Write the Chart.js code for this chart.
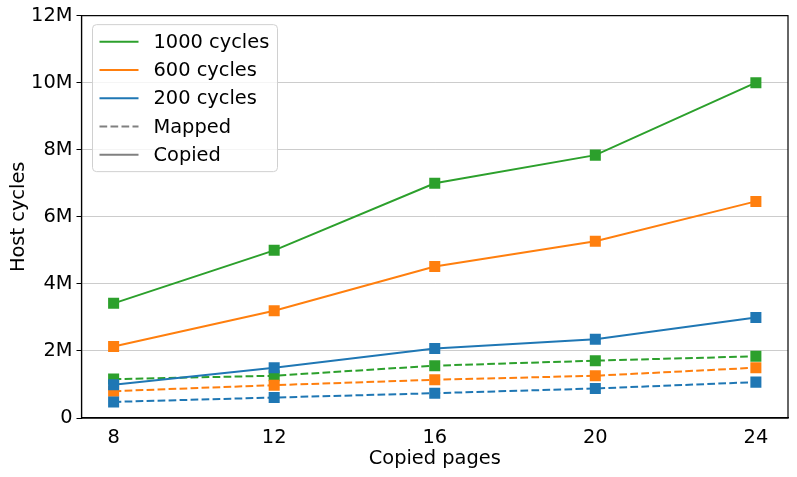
<!DOCTYPE html>
<html>
<head>
<meta charset="utf-8">
<script src="https://cdn.jsdelivr.net/npm/chart.js@4/dist/chart.umd.min.js"></script>
<style>
  html, body { margin: 0; padding: 0; background: #fff; }
  #wrap { width: 797px; height: 477px; }
</style>
</head>
<body>
<div id="wrap"><canvas id="chart" width="797" height="477"></canvas></div>
<script>
// data
var pages = [8, 12, 16, 20, 24];
var seriesNames = ['1000 cycles', '600 cycles', '200 cycles'];
var seriesColors = ['#2ca02c', '#ff7f0e', '#1f77b4'];
var copied1000 = [3.42e6, 5.0e6, 7.0e6, 7.84e6, 10.0e6];
var copied600 = [2.13e6, 3.2e6, 4.52e6, 5.27e6, 6.46e6];
var copied200 = [0.99e6, 1.5e6, 2.07e6, 2.35e6, 3.0e6];
var mapped1000 = [1.16e6, 1.26e6, 1.56e6, 1.71e6, 1.84e6];
var mapped600 = [0.8e6, 0.98e6, 1.14e6, 1.26e6, 1.5e6];
var mapped200 = [0.48e6, 0.61e6, 0.74e6, 0.88e6, 1.07e6];
var yTicks = [0, 2e6, 4e6, 6e6, 8e6, 10e6, 12e6];
var styleNames = ['Mapped', 'Copied'];

var FONT = 'DejaVu Sans';
var FS = 19.4;
var copiedSets = [copied1000, copied600, copied200];
var mappedSets = [mapped1000, mapped600, mapped200];

function pts(vals) {
    return vals.map(function(v, i) { return {x: pages[i], y: v}; });
}

var datasets = [];
for (var i = 2; i >= 0; i--) {
    [[mappedSets[i], [7.7, 3.3]], [copiedSets[i], []]].forEach(function(s) {
        datasets.push({
            data: pts(s[0]),
            borderColor: seriesColors[i],
            backgroundColor: seriesColors[i],
            borderWidth: 2,
            borderDash: s[1],
            pointStyle: 'rect',
            pointRadius: 7.8,
            pointBorderWidth: 0,
            tension: 0
        });
    });
}

// top/right spines like matplotlib
var frame = {
    id: 'frame',
    afterDatasetsDraw: function(chart) {
        var a = chart.chartArea, ctx = chart.ctx;
        ctx.save();
        ctx.strokeStyle = '#000';
        ctx.lineWidth = 1.2;
        ctx.strokeRect(a.left, a.top, a.right - a.left, a.bottom - a.top);
        ctx.restore();
    }
};

// matplotlib-like legend drawn inside the plot
var boxLegend = {
    id: 'boxLegend',
    afterDraw: function(chart) {
        var ctx = chart.ctx;
        var a = chart.chartArea;
        var x0 = a.left + 11, y0 = a.top + 9, w = 185, h = 147, r = 4;
        ctx.save();
        ctx.beginPath();
        ctx.roundRect(x0, y0, w, h, r);
        ctx.fillStyle = 'rgba(255,255,255,0.8)';
        ctx.fill();
        ctx.strokeStyle = '#d0d0d0';
        ctx.lineWidth = 1;
        ctx.stroke();
        var items = seriesNames.map(function(n, k) { return {label: n, color: seriesColors[k], dash: []}; });
        items.push({label: styleNames[0], color: '#808080', dash: [7.7, 3.3]});
        items.push({label: styleNames[1], color: '#808080', dash: []});
        ctx.font = FS + 'px "' + FONT + '"';
        ctx.textBaseline = 'middle';
        ctx.fillStyle = '#000';
        items.forEach(function(it, k) {
            var yy = y0 + 17 + k * 28.3;
            ctx.beginPath();
            ctx.setLineDash(it.dash);
            ctx.strokeStyle = it.color;
            ctx.lineWidth = 2;
            ctx.moveTo(x0 + 7, yy);
            ctx.lineTo(x0 + 46, yy);
            ctx.stroke();
            ctx.setLineDash([]);
            ctx.fillText(it.label, x0 + 61, yy + 1);
        });
        ctx.restore();
    }
};

new Chart(document.getElementById('chart'), {
    type: 'line',
    data: { datasets: datasets },
    options: {
        responsive: false,
        animation: false,
        devicePixelRatio: 1,
        layout: { padding: { left: 0, right: 9, top: 10, bottom: 0 } },
        plugins: { legend: { display: false }, tooltip: { enabled: false } },
        scales: {
            x: {
                type: 'linear',
                min: 7.2,
                max: 24.8,
                afterBuildTicks: function(s) { s.ticks = pages.map(function(p) { return {value: p}; }); },
                afterFit: function(s) { s.height = 59; },
                grid: { display: false, drawOnChartArea: false, tickLength: 5, tickColor: '#000' },
                border: { color: '#000', width: 1.2 },
                ticks: { color: '#000', font: { family: FONT, size: FS }, padding: 3, maxRotation: 0 },
                title: { display: true, text: 'Copied pages', color: '#000', font: { family: FONT, size: FS }, padding: { top: 0, bottom: 6 } }
            },
            y: {
                min: 0,
                max: 12e6,
                afterBuildTicks: function(s) { s.ticks = yTicks.map(function(v) { return {value: v}; }); },
                afterFit: function(s) { s.width = 81.5; },
                grid: { color: '#cccccc', lineWidth: 1, tickLength: 5, tickColor: '#000' },
                border: { color: '#000', width: 1.2 },
                ticks: {
                    color: '#000', font: { family: FONT, size: FS }, padding: 4,
                    callback: function(v) { return v === 0 ? '0' : (v / 1e6) + 'M'; }
                },
                title: { display: true, text: 'Host cycles', color: '#000', font: { family: FONT, size: FS }, padding: { top: 7, bottom: 0 } }
            }
        }
    },
    plugins: [frame, boxLegend]
});
</script>
</body>
</html>
